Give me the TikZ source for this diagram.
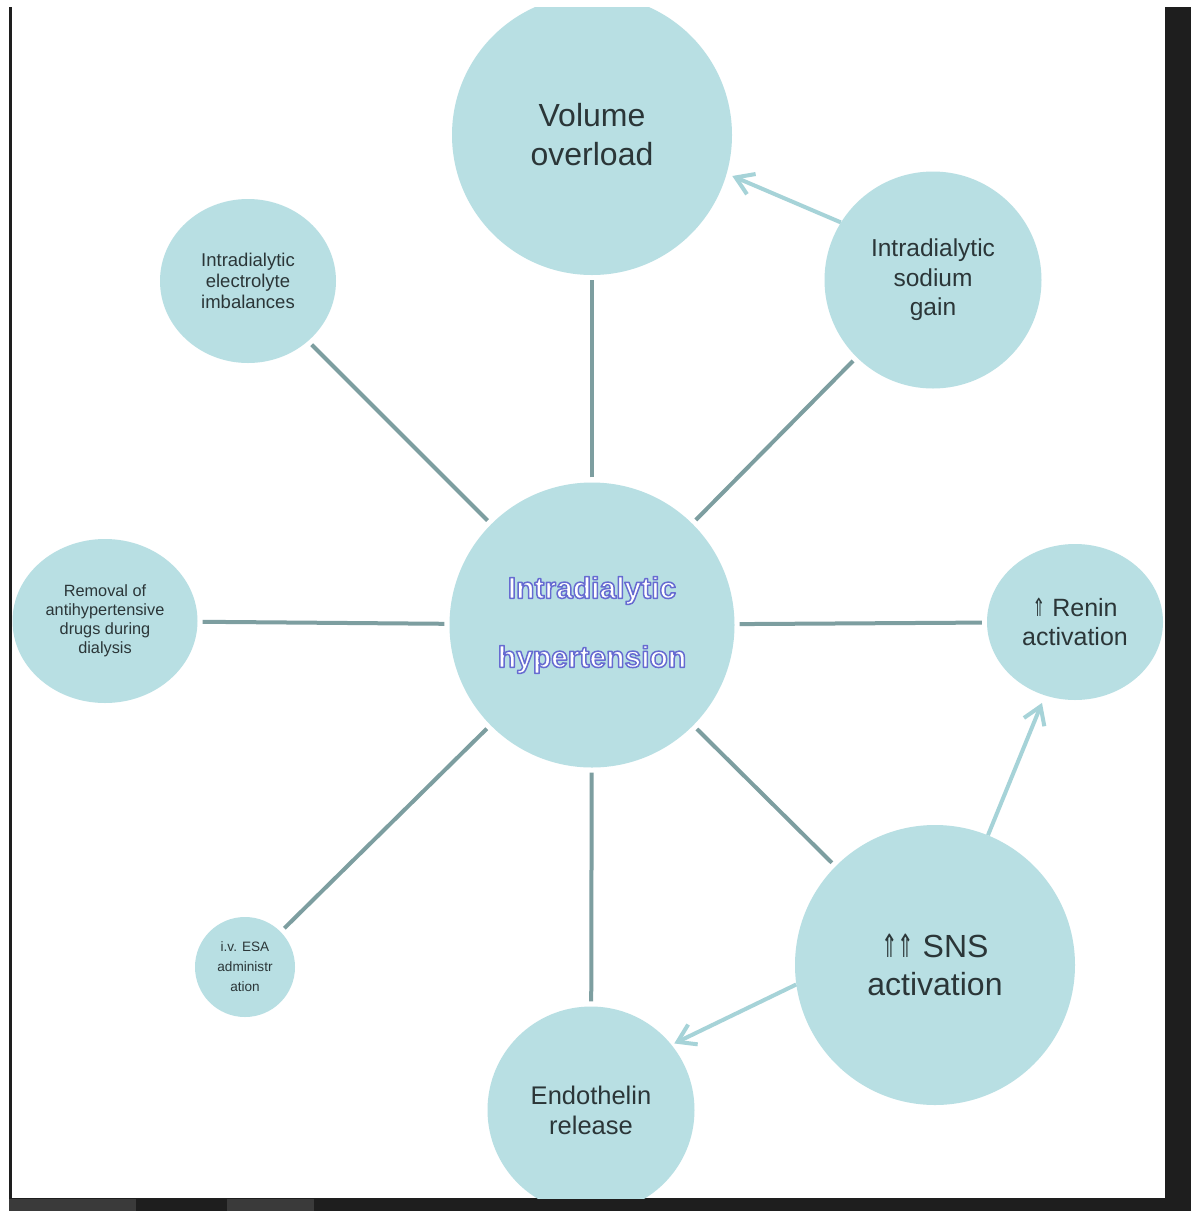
\documentclass[tikz,border=0pt]{standalone}
\usepackage{fontspec}
\usepackage{graphicx}
\setmainfont{Liberation Sans}
\newfontfamily\symbfont{DejaVu Sans}
\usetikzlibrary{shapes.geometric,arrows.meta}

\definecolor{bubblefill}{HTML}{B8DFE3}
\definecolor{spokecol}{HTML}{7D9EA0}
\definecolor{pushcol}{HTML}{A6D3D8}
\definecolor{inkcol}{HTML}{2B3638}
\definecolor{framecol}{HTML}{1E1E1E}
\definecolor{framegrey}{HTML}{3A3A3A}

% white letters with a blue-violet rim (fill + stroke render mode)
\newcommand\rimtext[1]{\special{pdf:code q 2 Tr 1.5 w 1 j 0.40 0.42 0.82 RG}#1\special{pdf:code Q}}
\newcommand\uparr{\scalebox{0.62}[1]{\symbfont ⇑}}

\begin{document}
\begin{tikzpicture}[x=1pt, y=-1pt,
bubble/.style={circle, fill=bubblefill, text=inkcol, align=center, inner sep=0pt},
oval/.style={ellipse, fill=bubblefill, text=inkcol, align=center, inner sep=0pt},
spoke/.style={draw=spokecol, line width=4pt, shorten <=5pt, shorten >=5pt},
push/.style={draw=pushcol, line width=4pt, -{Straight Barb[length=17pt,width=22pt]}}]

\useasboundingbox (0,0) rectangle (1191,1211);
\fill[white] (0,0) rectangle (1191,1211);

% screen frame
\fill[framecol] (9,7) rectangle (12,1199);
\fill[framecol] (1165,7) rectangle (1191,1211);
\fill[framecol] (9,1198) rectangle (1191,1211);
\fill[framegrey] (9,1199) rectangle (136,1211);
\fill[framegrey] (227,1199) rectangle (314,1211);

\begin{scope}
\clip (12,7) rectangle (1165,1198);
\node[bubble, minimum size=285pt, text=white, font=\fontsize{30}{69}\selectfont\bfseries](hyper) at (592, 625){\rimtext{Intradialytic}\\\rimtext{hypertension}};
\node[bubble, minimum size=280pt, font=\fontsize{32}{39}\selectfont](volume) at (592, 135){Volume\\overload};
\node[oval, minimum width=176pt, minimum height=164pt, font=\fontsize{18.5}{21}\selectfont](electrolyte) at (248, 281){Intradialytic\\electrolyte\\imbalances};
\node[bubble, minimum size=217pt, font=\fontsize{24.5}{29.5}\selectfont](sodium) at (933, 280){Intradialytic\\sodium\\gain};
\node[oval, minimum width=185pt, minimum height=164pt, font=\fontsize{16.3}{19}\selectfont](removal) at (105, 621){Removal of\\antihypertensive\\drugs during\\dialysis};
\node[oval, minimum width=176pt, minimum height=156pt, font=\fontsize{25}{29}\selectfont](renin) at (1075, 622){\uparr\ Renin\\activation};
\node[bubble, minimum size=100pt, font=\fontsize{13.6}{20}\selectfont](esa) at (245, 967){i.v. ESA\\administr\\ation};
\node[bubble, minimum size=280pt, font=\fontsize{32}{38}\selectfont](sns) at (935, 965){\uparr\kern-1pt\uparr\ SNS\\activation};
\node[bubble, minimum size=207pt, font=\fontsize{25.5}{30}\selectfont](endothelin) at (591, 1110){Endothelin\\release};
\end{scope}

\draw[spoke](hyper) -- (volume);
\draw[spoke](hyper) -- (electrolyte);
\draw[spoke](hyper) -- (sodium);
\draw[spoke](hyper) -- (removal);
\draw[spoke](hyper) -- (renin);
\draw[spoke](hyper) -- (esa);
\draw[spoke](hyper) -- (endothelin);
\draw[spoke](hyper) -- (sns);

\draw[push, shorten >=6pt](sodium.148) -- (volume.-16);
\draw[push, shorten >=8pt](sns) -- (renin);
\draw[push, shorten >=3pt](sns.188) -- (endothelin.39);

\end{tikzpicture}
\end{document}
